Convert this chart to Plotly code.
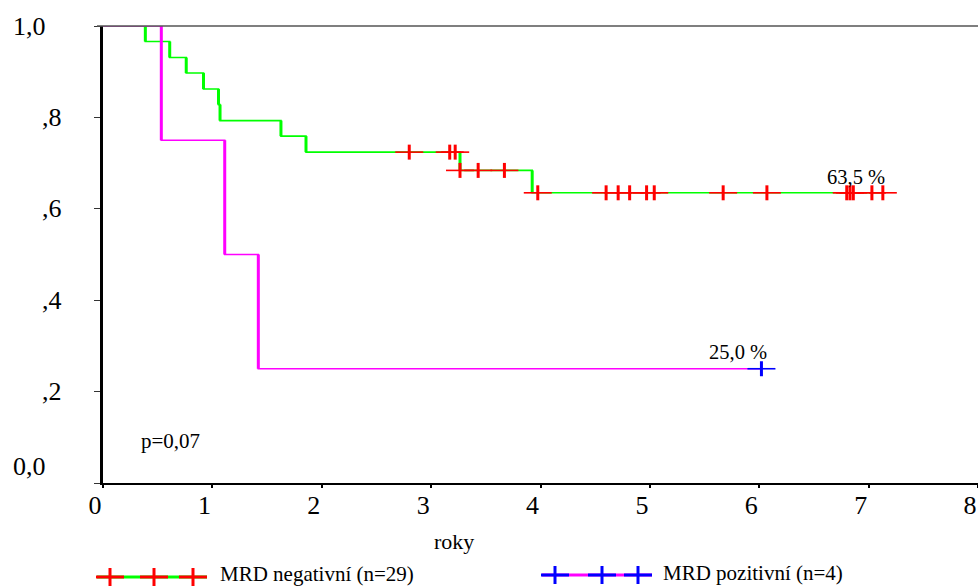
import bisect
import plotly.graph_objects as go

# MRD negative (n=29): step times in years and survival after each step
neg_times = [0.0, 0.387, 0.61, 0.761, 0.919, 1.056, 1.07, 1.627, 1.856, 3.264, 3.924]
neg_surv = [1.0, 0.966, 0.931, 0.897, 0.862, 0.828, 0.793, 0.759, 0.724, 0.684, 0.635]
neg_censored = [2.80, 3.17, 3.22, 3.264, 3.43, 3.67, 3.975, 4.60, 4.71, 4.815,
                4.97, 5.04, 5.67, 6.07, 6.80, 6.83, 6.86, 7.03, 7.13]

# MRD positive (n=4)
pos_times = [0.0, 0.533, 1.113, 1.42]
pos_surv = [1.0, 0.75, 0.5, 0.25]
pos_censored = [6.02]

x_ticks = [0, 1, 2, 3, 4, 5, 6, 7, 8]
y_ticks = [0.0, 0.2, 0.4, 0.6, 0.8, 1.0]
y_tick_text = ["0,0", ",2", ",4", ",6", ",8", "1,0"]

neg_label = "MRD negativní (n=29)"
pos_label = "MRD pozitivní (n=4)"
neg_final_text = "63,5 %"
pos_final_text = "25,0 %"
p_text = "p=0,07"
x_title = "roky"

GREEN = "#00ff00"
RED = "#ff0000"
MAGENTA = "#ff00ff"
BLUE = "#0000ff"
SERIF = "Liberation Serif, Times New Roman, serif"

W, H = 978, 587
ML, MR, MT, MB = 103, 0, 26, 104
PW, PH = W - ML - MR, H - MT - MB


def fx(px):
    return (px - ML) / PW


def fy(py):
    return (H - MB - py) / PH


def level_at(times, surv, t):
    return surv[bisect.bisect_right(times, t) - 1]


def step_traces(times, surv, end, color):
    hx = list(times) + [end]
    hy = list(surv) + [surv[-1]]
    vx, vy = [], []
    for i in range(1, len(times)):
        vx += [times[i], times[i], None]
        vy += [surv[i - 1], surv[i], None]
    return [
        go.Scatter(x=hx, y=hy, mode="lines", line=dict(color=color, width=1.6, shape="hv"),
                   hoverinfo="skip", showlegend=False),
        go.Scatter(x=vx, y=vy, mode="lines", line=dict(color=color, width=3),
                   hoverinfo="skip", showlegend=False),
    ]


def censor_traces(times, surv, cens, color):
    cy = [level_at(times, surv, t) for t in cens]
    return [
        go.Scatter(x=cens, y=cy, mode="markers", hoverinfo="skip", showlegend=False,
                   marker=dict(symbol="line-ew", size=20, line=dict(color=color, width=1.6))),
        go.Scatter(x=cens, y=cy, mode="markers", hoverinfo="skip", showlegend=False,
                   marker=dict(symbol="line-ns", size=10.7, line=dict(color=color, width=3))),
    ]


fig = go.Figure()
for tr in step_traces(neg_times, neg_surv, neg_censored[-1], GREEN):
    fig.add_trace(tr)
for tr in step_traces(pos_times, pos_surv, pos_censored[-1], MAGENTA):
    fig.add_trace(tr)
for tr in censor_traces(neg_times, neg_surv, neg_censored, RED):
    fig.add_trace(tr)
for tr in censor_traces(pos_times, pos_surv, pos_censored, BLUE):
    fig.add_trace(tr)

shapes = []
# top frame line
shapes.append(dict(type="line", xref="paper", yref="paper", x0=fx(97), x1=1, y0=1, y1=1,
                   line=dict(color="#555555", width=1.5), layer="above"))


def legend_sample(x_left, x_right, y_px, crosses, line_color, cross_color):
    out = [dict(type="line", xref="paper", yref="paper", x0=fx(x_left), x1=fx(x_right),
                y0=fy(y_px), y1=fy(y_px), line=dict(color=line_color, width=3))]
    for cx in crosses:
        out.append(dict(type="line", xref="paper", yref="paper", x0=fx(cx - 14), x1=fx(cx + 14),
                        y0=fy(y_px), y1=fy(y_px), line=dict(color=cross_color, width=3)))
        out.append(dict(type="line", xref="paper", yref="paper", x0=fx(cx), x1=fx(cx),
                        y0=fy(y_px - 9), y1=fy(y_px + 9), line=dict(color=cross_color, width=3)))
    return out


shapes += legend_sample(97, 207, 577, [110, 154, 193], GREEN, RED)
shapes += legend_sample(542, 652, 575, [555, 602, 638], MAGENTA, BLUE)

annotations = []
# y tick labels
for v, txt in zip(y_ticks, y_tick_text):
    wide = not txt.startswith(",")
    annotations.append(dict(x=fx(48 if wide else 64), xref="paper", y=v, yref="y",
                            xanchor="right", yanchor="middle", text=txt, showarrow=False,
                            yshift=17 if v == 0 else 0,
                            font=dict(family=SERIF, size=26, color="#000000")))

annotations.append(dict(x=6.88, y=neg_surv[-1], xref="x", yref="y", text=neg_final_text,
                        showarrow=False, xanchor="center", yanchor="bottom", yshift=3,
                        font=dict(family=SERIF, size=20.5, color="#000000")))
annotations.append(dict(x=5.81, y=pos_surv[-1], xref="x", yref="y", text=pos_final_text,
                        showarrow=False, xanchor="center", yanchor="bottom", yshift=4,
                        font=dict(family=SERIF, size=20.5, color="#000000")))
annotations.append(dict(x=fx(139), y=fy(441), xref="paper", yref="paper", text=p_text,
                        showarrow=False, xanchor="left", yanchor="middle",
                        font=dict(family=SERIF, size=21, color="#000000")))
annotations.append(dict(x=fx(454), y=fy(541), xref="paper", yref="paper", text=x_title,
                        showarrow=False, xanchor="center", yanchor="middle",
                        font=dict(family=SERIF, size=22, color="#000000")))
annotations.append(dict(x=fx(218), y=fy(573.5), xref="paper", yref="paper", text=neg_label,
                        showarrow=False, xanchor="left", yanchor="middle",
                        font=dict(family=SERIF, size=21, color="#000000")))
annotations.append(dict(x=fx(661), y=fy(572.5), xref="paper", yref="paper", text=pos_label,
                        showarrow=False, xanchor="left", yanchor="middle",
                        font=dict(family=SERIF, size=21, color="#000000")))

fig.update_layout(
    width=W, height=H,
    margin=dict(l=ML, r=MR, t=MT, b=MB, pad=0),
    paper_bgcolor="white", plot_bgcolor="white",
    showlegend=False,
    shapes=shapes,
    annotations=annotations,
    xaxis=dict(range=[0, 8], tickvals=x_ticks, ticktext=[str(v) for v in x_ticks],
               showgrid=False, zeroline=False, showline=True, linecolor="#000000", linewidth=1.5,
               ticks="outside", ticklen=3, tickwidth=2, tickcolor="#000000",
               ticklabelshift=-8, ticklabelstandoff=-5,
               tickfont=dict(family=SERIF, size=26, color="#000000")),
    yaxis=dict(range=[0, 1], tickvals=y_ticks, showticklabels=False,
               showgrid=False, zeroline=False, showline=True, linecolor="#000000", linewidth=3,
               ticks="outside", ticklen=6, tickwidth=1.2, tickcolor="#333333"),
)

fig.write_html("out.html")
